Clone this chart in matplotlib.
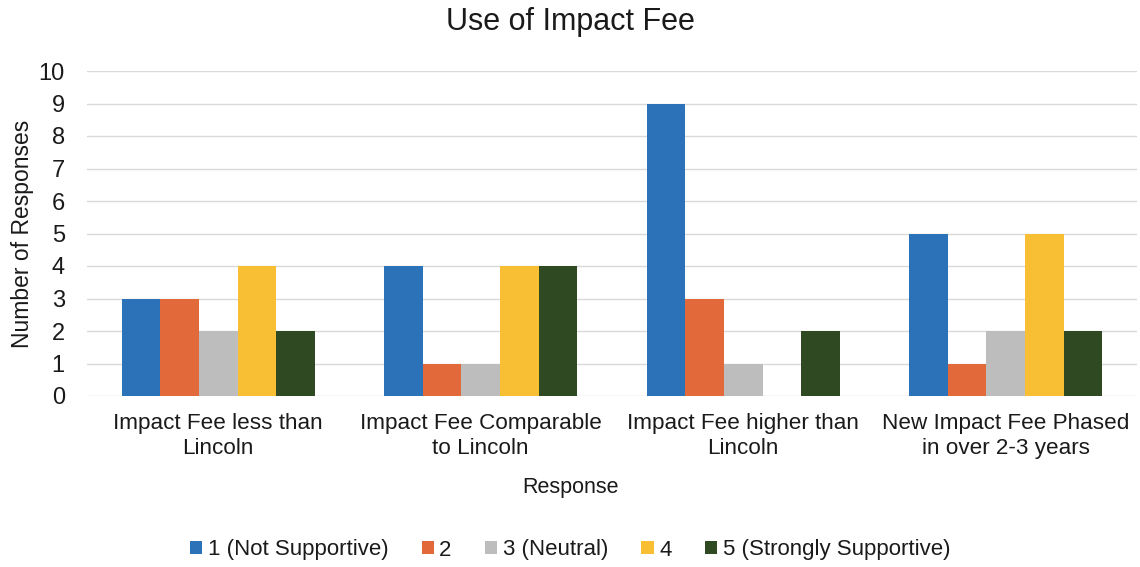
import matplotlib
matplotlib.use("Agg")
import matplotlib.pyplot as plt
import numpy as np

plt.rcParams['font.family'] = ['Liberation Sans', 'DejaVu Sans']

categories = ["Impact Fee less than\nLincoln", "Impact Fee Comparable\nto Lincoln",
              "Impact Fee higher than\nLincoln", "New Impact Fee Phased\nin over 2-3 years"]
series_names = ["1 (Not Supportive)", "2", "3 (Neutral)", "4", "5 (Strongly Supportive)"]
s1 = [3, 4, 9, 5]
s2 = [3, 1, 3, 1]
s3 = [2, 1, 1, 2]
s4 = [4, 4, 0, 5]
s5 = [2, 4, 2, 2]
yticks = list(range(0, 11))
colors = ["#2B72B8", "#E2693A", "#BDBDBD", "#F9BF34", "#2F4A22"]
txt = "#1a1a1a"

fig = plt.figure(figsize=(11.4, 5.67), dpi=100)
ax = fig.add_axes([87/1140, 1-396/567, 1050/1140, 325/567])

x = np.arange(len(categories))
w = 0.147
for i, (vals, name) in enumerate(zip([s1, s2, s3, s4, s5], series_names)):
    ax.bar(x + (i - 2) * w, vals, width=w, color=colors[i], label=name, zorder=3)

ax.set_xlim(-0.5, len(categories) - 0.5)
ax.set_ylim(0, 10)
ax.set_yticks(yticks)
ax.yaxis.grid(True, color="#D9D9D9", linewidth=1, zorder=0)
for s in ax.spines.values():
    s.set_visible(False)
ax.tick_params(axis='both', length=0)
ax.tick_params(axis='y', labelsize=17, pad=16, colors=txt)
ax.set_xticks(x)
ax.set_xticklabels(categories, fontsize=16.2, color=txt, linespacing=1.3)
ax.tick_params(axis='x', pad=12)
ax.set_ylabel("Number of Responses", fontsize=16.5, color=txt, labelpad=3)
fig.text(0.5, 1-487/567, "Response", ha='center', va='center', fontsize=15.5, color=txt)
fig.text(0.5, 1-22/567, "Use of Impact Fee", ha='center', va='center', fontsize=22, color=txt)

fig.legend(loc='center', bbox_to_anchor=(0.5, 1-550/567), ncol=5, frameon=False,
           fontsize=16, handlelength=0.55, handleheight=0.55, handletextpad=0.25, columnspacing=1.5,
           labelcolor=txt)

fig.savefig("out.png", dpi=100)
